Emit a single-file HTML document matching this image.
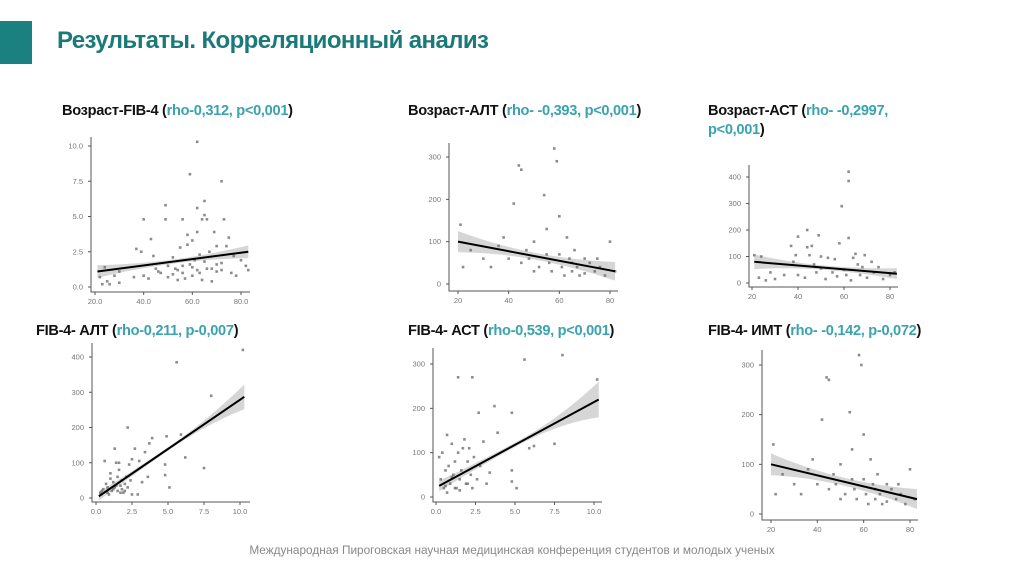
<!DOCTYPE html>
<html><head><meta charset="utf-8">
<style>
body{margin:0;background:#fff;}
#slide{position:relative;width:1024px;height:574px;overflow:hidden;background:#fff;font-family:"Liberation Sans","DejaVu Sans",sans-serif;}
.bar{position:absolute;left:0;top:21px;width:32px;height:43px;background:#1a8080;}
.title{position:absolute;left:57px;top:27px;font-size:24px;font-weight:bold;color:#1a7a7a;white-space:nowrap;letter-spacing:-0.6px;}
.pt{position:absolute;font-size:14.6px;font-weight:bold;color:#111;white-space:nowrap;line-height:19px;letter-spacing:-0.3px;}
.pt span{color:#3aa3ad;}
.foot{position:absolute;left:0;width:1024px;top:543px;text-align:center;font-size:11.8px;color:#888;}
svg{position:absolute;left:0;top:0;}
</style></head>
<body>
<div id="slide">
<div class="bar"></div>
<div class="title">Результаты. Корреляционный анализ</div>
<div class="pt" style="left:62px;top:102px">Возраст-FIB-4 (<span>rho-0,312, p&lt;0,001</span>)</div>
<div class="pt" style="left:408px;top:102px">Возраст-АЛТ (<span>rho- -0,393, p&lt;0,001</span>)</div>
<div class="pt" style="left:708px;top:102px">Возраст-АСТ (<span>rho- -0,2997,</span><br><span>p&lt;0,001</span>)</div>
<div class="pt" style="left:36px;top:322px">FIB-4- АЛТ (<span>rho-0,211, p-0,007</span>)</div>
<div class="pt" style="left:408px;top:322px">FIB-4- АСТ (<span>rho-0,539, p&lt;0,001</span>)</div>
<div class="pt" style="left:708px;top:322px">FIB-4- ИМТ (<span>rho- -0,142, p-0,072</span>)</div>
<div class="foot">Международная Пироговская научная медицинская конференция студентов и молодых ученых</div>
<svg id="charts" width="1024" height="574"></svg>
</div>
<script>
// ---- data ----
const p1Points=[[22,0.7],[23,0.2],[24,1.4],[25,0.4],[26,0.2],[28,0.8],[30,0.3],[30,1.1],[36,0.7],[37,2.7],[39,2.5],[40,4.8],[40,0.8],[42,0.6],[43,3.4],[44,2.2],[45,1.3],[46,1.1],[47,1.0],[49,5.8],[49,4.8],[50,1.5],[50,0.7],[52,2.1],[52,0.9],[53,1.3],[54,0.5],[54,1.2],[55,2.8],[56,4.8],[56,1.0],[56,1.5],[57,0.6],[58,3.7],[58,3.0],[59,8.0],[59,1.6],[60,3.3],[60,0.8],[60,1.4],[61,1.9],[62,10.3],[62,5.6],[62,3.9],[62,1.2],[63,2.3],[63,1.0],[64,4.8],[64,0.5],[65,6.1],[65,5.1],[65,1.8],[66,4.8],[66,1.3],[67,2.5],[68,1.3],[68,0.4],[69,3.9],[70,1.6],[70,2.9],[70,1.1],[72,7.5],[72,1.2],[72,1.7],[73,4.8],[74,2.9],[75,3.5],[76,1.0],[77,2.2],[78,0.8],[80,1.9],[82,1.5],[83,1.2]];
const p1Xticks=[20,40,60,80];
const p1Yticks=[0,2.5,5,7.5,10];
const p1Fit=[[21,1.1],[83,2.5]];
const p1Band=[0.45,0.15,0.45];

const p2Points=[[21,140],[22,40],[25,80],[30,60],[33,40],[36,90],[38,110],[40,60],[42,190],[44,280],[45,270],[45,50],[47,80],[48,60],[50,100],[50,30],[52,40],[54,210],[55,130],[55,70],[56,50],[57,30],[58,320],[59,290],[60,160],[60,70],[61,40],[62,20],[63,110],[64,60],[65,30],[65,50],[66,80],[67,40],[68,20],[70,60],[70,25],[72,50],[74,30],[75,60],[76,40],[78,20],[80,100],[82,30]];
const p2Xticks=[20,40,60,80];
const p2Yticks=[0,100,200,300];
const p2Fit=[[20,100],[82,30]];
const p2Band=[25,8,22];

const p3Points=[[21,105],[23,20],[24,100],[26,10],[28,40],[30,15],[34,30],[37,140],[38,80],[39,105],[40,175],[40,30],[43,20],[44,135],[44,200],[45,105],[46,140],[47,70],[48,40],[49,180],[50,100],[50,55],[52,15],[53,95],[55,40],[56,90],[57,25],[58,150],[59,290],[60,50],[61,30],[62,420],[62,385],[62,170],[63,10],[64,95],[65,110],[66,70],[67,30],[68,60],[69,105],[70,20],[72,80],[73,40],[75,60],[77,15],[80,30],[82,40]];
const p3Xticks=[20,40,60,80];
const p3Yticks=[0,100,200,300,400];
const p3Fit=[[21,80],[83,35]];
const p3Band=[28,8,20];

const p4Points=[[0.3,15],[0.4,20],[0.5,25],[0.6,105],[0.7,40],[0.8,30],[0.8,15],[0.9,10],[1.0,55],[1.0,70],[1.1,20],[1.2,45],[1.2,25],[1.3,30],[1.3,140],[1.4,100],[1.4,35],[1.5,20],[1.5,60],[1.6,80],[1.6,100],[1.7,35],[1.7,15],[1.8,25],[1.8,50],[1.9,15],[2.0,40],[2.0,20],[2.1,60],[2.2,30],[2.2,200],[2.3,95],[2.4,50],[2.5,110],[2.5,10],[2.7,140],[2.9,10],[3.0,105],[3.2,45],[3.4,130],[3.6,60],[3.7,155],[3.9,170],[4.8,95],[4.8,65],[4.9,175],[5.1,30],[5.6,385],[5.9,180],[6.2,115],[7.5,85],[8.0,290],[10.2,420]];
const p4Xticks=[0,2.5,5,7.5,10];
const p4Yticks=[0,100,200,300,400];
const p4Fit=[[0.2,5],[10.3,287]];
const p4Band=[12,5,35];

const p5Points=[[0.2,90],[0.3,40],[0.4,100],[0.5,20],[0.6,60],[0.6,25],[0.7,10],[0.7,140],[0.8,70],[0.9,30],[1.0,120],[1.0,45],[1.1,50],[1.2,80],[1.2,20],[1.3,20],[1.4,270],[1.4,100],[1.5,40],[1.5,15],[1.6,60],[1.7,110],[1.8,130],[1.9,30],[2.0,80],[2.0,30],[2.1,110],[2.2,50],[2.3,270],[2.3,20],[2.4,90],[2.6,40],[2.7,190],[2.8,70],[3.0,125],[3.2,30],[3.4,55],[3.7,205],[3.9,145],[4.8,60],[4.8,35],[4.8,190],[5.1,20],[5.6,310],[5.9,110],[6.2,115],[7.5,120],[8.0,320],[10.2,265]];
const p5Xticks=[0,2.5,5,7.5,10];
const p5Yticks=[0,100,200,300];
const p5Fit=[[0.2,25],[10.3,220]];
const p5Band=[12,5,40];

const p6Points=[[21,140],[22,40],[25,80],[30,60],[33,40],[36,90],[38,110],[40,60],[42,190],[44,275],[45,270],[45,50],[47,80],[48,60],[50,100],[50,30],[52,40],[54,205],[55,130],[55,70],[56,50],[57,30],[58,320],[59,300],[60,160],[60,70],[61,40],[62,20],[63,110],[64,60],[65,30],[65,50],[66,80],[67,40],[68,20],[70,60],[70,25],[72,50],[74,30],[75,60],[76,40],[78,20],[80,90],[82,30]];
const p6Xticks=[20,40,60,80];
const p6Yticks=[0,100,200,300];
const p6Fit=[[20,100],[83,30]];
const p6Band=[22,8,20];

// ---- layout (pixel geometry) ----
const panels=[
 {id:'age-fib4',pts:p1Points,xt:p1Xticks,yt:p1Yticks,fit:p1Fit,band:p1Band,x0:20,px0:95,x1:80,px1:241,y0:0,py0:287,y1:10,py1:146,ax:91,ay:292,top:137,right:250,dec:1},
 {id:'age-alt',pts:p2Points,xt:p2Xticks,yt:p2Yticks,fit:p2Fit,band:p2Band,x0:20,px0:458,x1:80,px1:610,y0:0,py0:284,y1:300,py1:157,ax:449,ay:291,top:143,right:618,dec:0},
 {id:'age-ast',pts:p3Points,xt:p3Xticks,yt:p3Yticks,fit:p3Fit,band:p3Band,x0:20,px0:752,x1:80,px1:890,y0:0,py0:283,y1:400,py1:177,ax:749,ay:287,top:165,right:898,dec:0},
 {id:'fib4-alt',pts:p4Points,xt:p4Xticks,yt:p4Yticks,fit:p4Fit,band:p4Band,x0:0,px0:96,x1:10,px1:240,y0:0,py0:498,y1:400,py1:357,ax:92,ay:502,top:343,right:250,dec:1},
 {id:'fib4-ast',pts:p5Points,xt:p5Xticks,yt:p5Yticks,fit:p5Fit,band:p5Band,x0:0,px0:436,x1:10,px1:594,y0:0,py0:497,y1:300,py1:364,ax:433,ay:502,top:348,right:602,dec:1},
 {id:'fib4-imt',pts:p6Points,xt:p6Xticks,yt:p6Yticks,fit:p6Fit,band:p6Band,x0:20,px0:771,x1:80,px1:910,y0:0,py0:514,y1:300,py1:365,ax:762,ay:520,top:350,right:918,dec:0}
];
const NS='http://www.w3.org/2000/svg';
const svg=document.getElementById('charts');
function mk(tag,attrs,parent){const e=document.createElementNS(NS,tag);for(const k in attrs)e.setAttribute(k,attrs[k]);parent.appendChild(e);return e;}
panels.forEach(p=>{
 const sx=v=>p.px0+(v-p.x0)*(p.px1-p.px0)/(p.x1-p.x0);
 const sy=v=>p.py0+(v-p.y0)*(p.py1-p.py0)/(p.y1-p.y0);
 const g=mk('g',{},svg);
 
 
 const axes=mk('path',{d:`M${p.ax},${p.top}V${p.ay}H${p.right}`,stroke:'#555','stroke-width':1,fill:'none'},g);
 
 
 p.xt.forEach(t=>{
  const x=sx(t);
  mk('line',{x1:x,x2:x,y1:p.ay,y2:p.ay+3,stroke:'#555'},g);
  const tx=mk('text',{x:x,y:p.ay+12,'font-size':7.5,'text-anchor':'middle',fill:'#777','font-family':'Liberation Sans, sans-serif'},g);
  tx.textContent=p.dec?t.toFixed(1):String(t);
  
  
 });
 p.yt.forEach(t=>{
  const y=sy(t);
  mk('line',{x1:p.ax-3,x2:p.ax,y1:y,y2:y,stroke:'#555'},g);
  const tx=mk('text',{x:p.ax-8,y:y+2.5,'font-size':7.5,'text-anchor':'end',fill:'#777','font-family':'Liberation Sans, sans-serif'},g);
  tx.textContent=p.dec&&p.yt[p.yt.length-1]<=10?t.toFixed(1):String(t);
  
  
 });
 const [a,b]=p.fit;
 const f=x=>a[1]+(b[1]-a[1])*(x-a[0])/(b[0]-a[0]);
 const xm=(a[0]+b[0])/2, N=20, up=[], lo=[];
 for(let i=0;i<=N;i++){
  const x=a[0]+(b[0]-a[0])*i/N;
  const w=x<xm? p.band[1]+(p.band[0]-p.band[1])*Math.pow((xm-x)/(xm-a[0]),2)
              : p.band[1]+(p.band[2]-p.band[1])*Math.pow((x-xm)/(b[0]-xm),2);
  up.push(sx(x)+','+sy(f(x)+w)); lo.unshift(sx(x)+','+sy(f(x)-w));
 }
 const band=mk('polygon',{points:up.concat(lo).join(' '),fill:'#cfcfcf','fill-opacity':0.85},g);
 
 
 p.pts.forEach(d=>{
  const c=mk('rect',{x:sx(d[0])-1.3,y:sy(d[1])-1.3,width:2.6,height:2.6,fill:'#666','fill-opacity':0.75},g);
  
  
 });
 const ln=mk('line',{x1:sx(a[0]),y1:sy(a[1]),x2:sx(b[0]),y2:sy(b[1]),stroke:'#000','stroke-width':2},g);
 
 
});
</script>
</body></html>
